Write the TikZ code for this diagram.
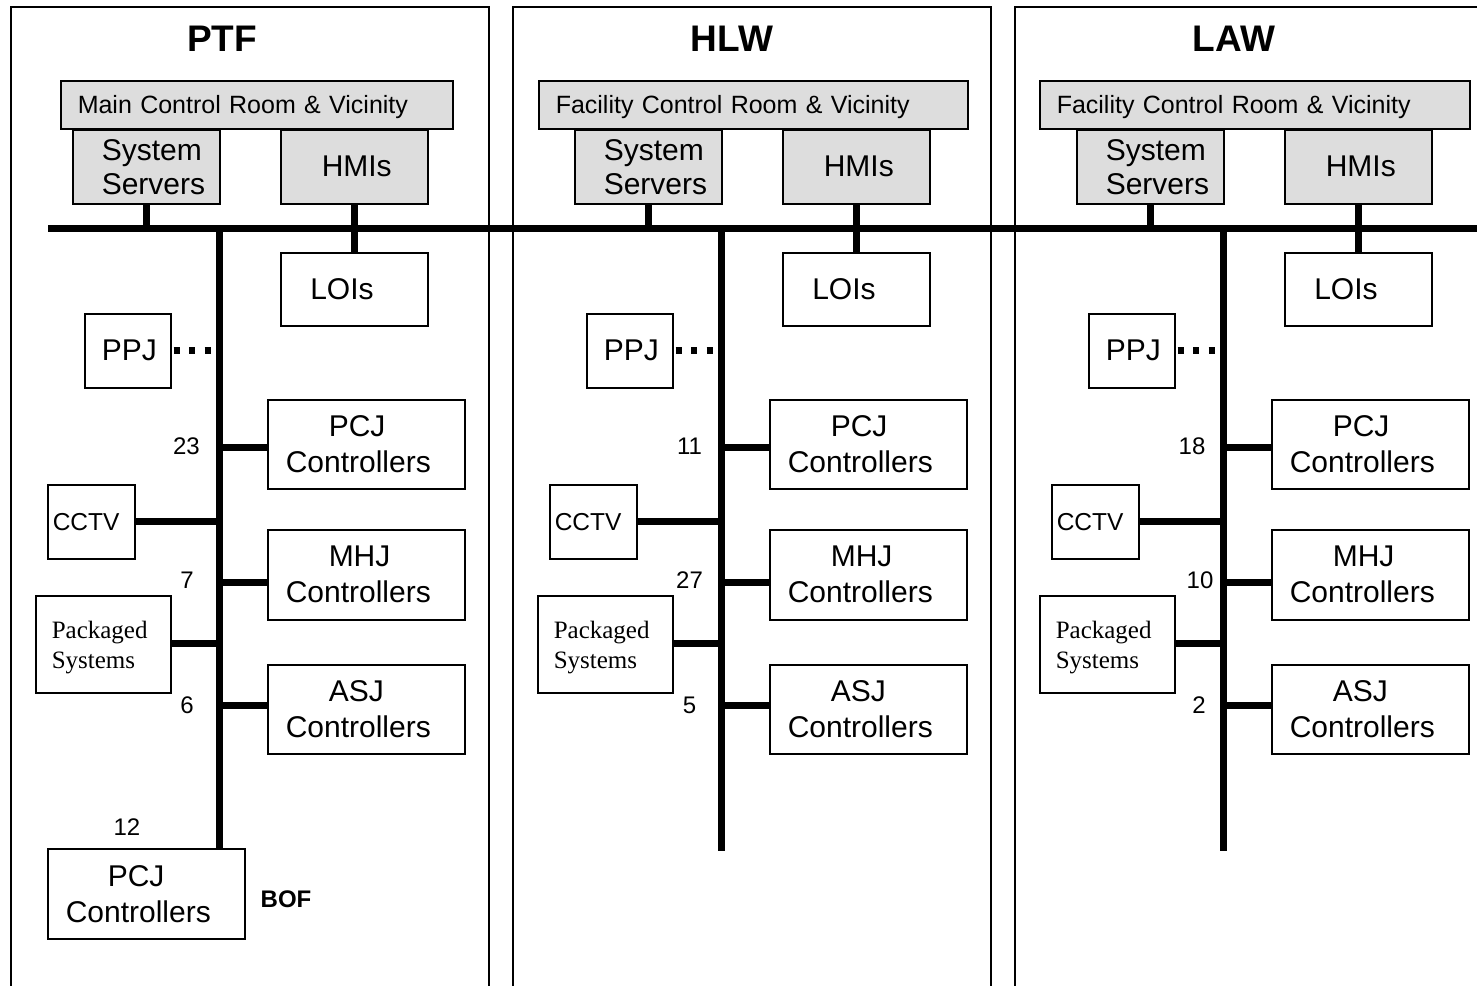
\documentclass[tikz,border=0pt]{standalone}
\usepackage{fontspec}
\setmainfont{Liberation Sans}
\newfontfamily\pkgserif{Liberation Serif}
\definecolor{roomgray}{RGB}{221,221,221}
% left padding at the start of a line inside a box
\newcommand\padl[1]{\noindent\rule{#1}{0pt}}

\begin{document}
\begin{tikzpicture}[x=1pt,y=-1pt,
  box/.style={draw, line width=1.5pt, inner xsep=0pt, inner ysep=0pt,
    anchor=north west, align=left},
  sz/.style 2 args={minimum width=#1pt, text width=#1pt, minimum height=#2pt},
  shaded/.style={box, fill=roomgray},
  big/.style={font=\fontsize{30}{34}\selectfont},
  ctrl/.style={box, sz={197}{89}, font=\fontsize{30}{36}\selectfont},
  link/.style={line width=7pt},
  ppjlink/.style={line width=7pt, dash pattern=on 6pt off 9.5pt, shorten <=2pt},
  panel/.style={line width=2pt},
  title/.style={font=\bfseries\fontsize{37}{44}\selectfont, inner sep=0pt},
  num/.style={font=\fontsize{24}{28}\selectfont, inner sep=0pt},
]
\clip (0,0) rectangle (1477,985);

% common network bus
\coordinate (busL) at (48,228);
\coordinate (busR) at (1477,228);
\draw[link] (busL) -- (busR);

\foreach \p/\dx/\ttl/\tx/\rx/\rw/\room/\na/\xa/\nb/\xb/\nc/\xc/\tb in {
  ptf/0/PTF/222/60/392/Main Control Room \& Vicinity/23/186.5/7/187/6/187/849,
  hlw/502/HLW/230/36/429/Facility Control Room \& Vicinity/11/187.5/27/187.5/5/187.5/851,
  law/1004/LAW/230/35/430/Facility Control Room \& Vicinity/18/188/10/196/2/195/851}{
  \begin{scope}[shift={(\dx,0)}]
    % facility frame, open at the bottom
    \coordinate (\p-bl) at (11,990);
    \coordinate (\p-tl) at (11,7);
    \coordinate (\p-tr) at (489,7);
    \coordinate (\p-br) at (489,990);
    \draw[panel] (\p-bl) -- (\p-tl) -- (\p-tr) -- (\p-br);

    \node[title] (\p-title) at (\tx,38.5) {\ttl};

    % control room group
    \node[shaded, sz={\rw}{48}, font=\fontsize{25}{30}\selectfont, text depth=0pt]
      (\p-room) at (\rx,80) {\padl{17pt}\room};
    \node[shaded, sz={147}{74}, big] (\p-srv) at (72,129)
      {\padl{29pt}System\\\padl{29pt}Servers};
    \node[shaded, sz={147}{74}, big] (\p-hmi) at (280,129) {\padl{41pt}HMIs};

    % local operator interfaces
    \node[box, sz={147}{73}, big] (\p-loi) at (280,252) {\padl{29.5pt}LOIs};

    % field devices
    \node[box, sz={86}{74}, big] (\p-ppj) at (84,313) {\padl{17pt}PPJ};
    \node[ctrl] (\p-pcj) at (267,399) {\padl{61pt}PCJ\\\padl{18pt}Controllers};
    \node[box, sz={87}{74}, font=\fontsize{24.5}{28}\selectfont] (\p-cctv) at (47,484)
      {\padl{5pt}CCTV};
    \node[ctrl, minimum height=90pt] (\p-mhj) at (267,529) {\padl{61pt}MHJ\\\padl{18pt}Controllers};
    \node[box, sz={135}{97}, font=\pkgserif\fontsize{25}{30}\selectfont, text height=23pt]
      (\p-pkg) at (35,595) {\padl{16pt}Packaged\\\padl{16pt}Systems};
    \node[ctrl] (\p-asj) at (267,664) {\padl{61pt}ASJ\\\padl{18pt}Controllers};

    % device counts
    \node[num] (\p-na) at (\xa,446.5) {\na};
    \node[num] (\p-nb) at (\xb,580) {\nb};
    \node[num] (\p-nc) at (\xc,705) {\nc};

    % trunk and branches
    \coordinate (\p-top) at (219,228);
    \coordinate (\p-end) at (219,\tb);
    \draw[link] (\p-top) -- (\p-end);
    \draw[link] (\p-srv.south) -- (\p-srv.south |- busL);
    \draw[link] (\p-hmi.south) -- (\p-loi.north);

    \coordinate (\p-jppj) at (219,350);
    \coordinate (\p-jpcj) at (219,447);
    \coordinate (\p-jcctv) at (219,521);
    \coordinate (\p-jmhj) at (219,582);
    \coordinate (\p-jpkg) at (219,643);
    \coordinate (\p-jasj) at (219,705);
    \draw[ppjlink] (\p-ppj.east |- \p-jppj) -- (\p-jppj);
    \draw[link] (\p-jpcj) -- (\p-jpcj -| \p-pcj.west);
    \draw[link] (\p-cctv.east |- \p-jcctv) -- (\p-jcctv);
    \draw[link] (\p-jmhj) -- (\p-jmhj -| \p-mhj.west);
    \draw[link] (\p-pkg.east |- \p-jpkg) -- (\p-jpkg);
    \draw[link] (\p-jasj) -- (\p-jasj -| \p-asj.west);
  \end{scope}
}

% BOF controllers at the end of the PTF trunk
\node[num] (ptf-nd) at (127,827) {12};
\node[box, sz={197}{90}, font=\fontsize{30}{36}\selectfont] (ptf-bof) at (47,848)
  {\padl{60pt}PCJ\\\padl{18pt}Controllers};
\node[font=\bfseries\fontsize{24}{28}\selectfont, inner sep=0pt] (bof) at (286,899) {BOF};
\end{tikzpicture}
\end{document}
